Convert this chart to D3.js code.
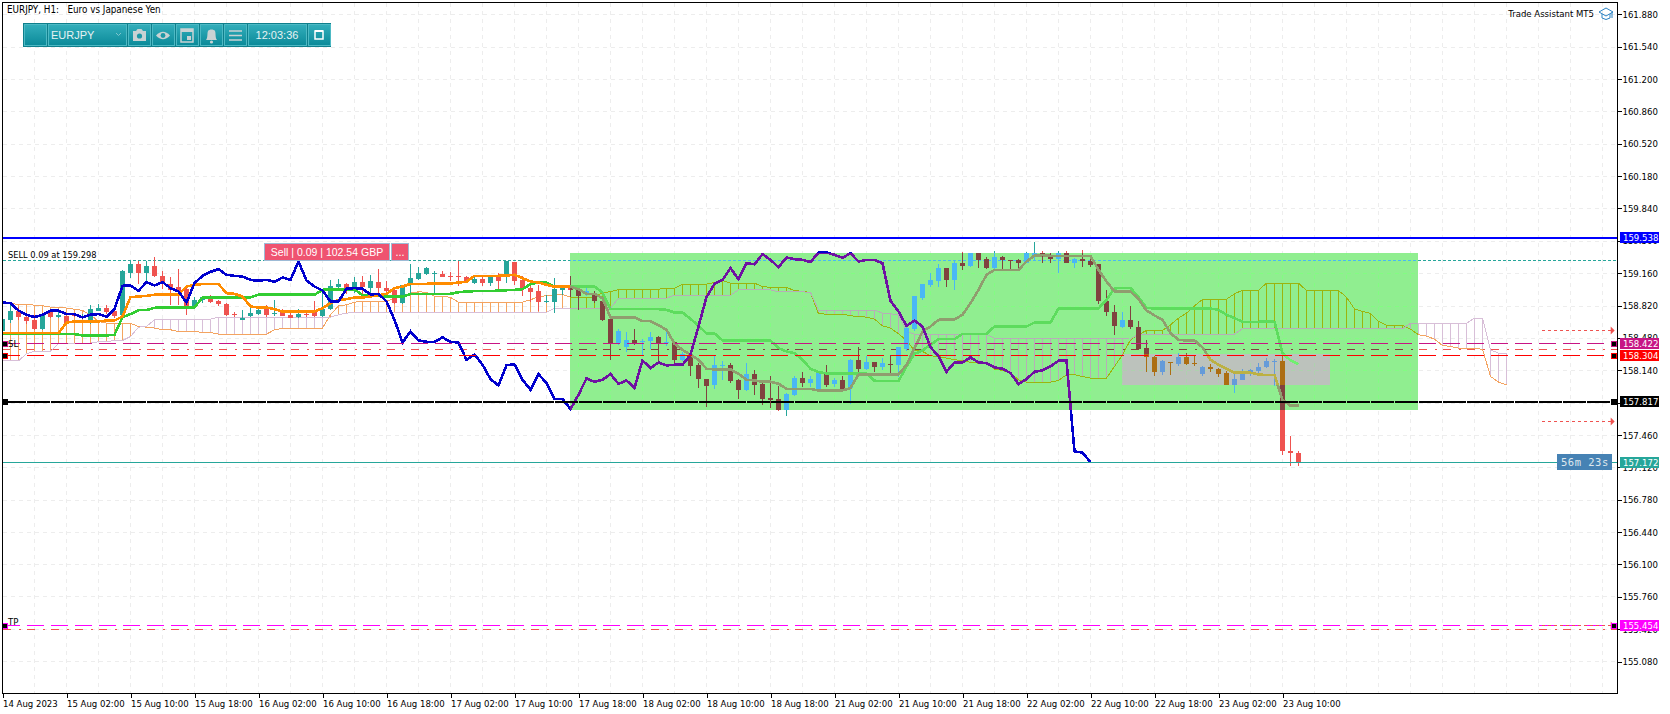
<!DOCTYPE html>
<html><head><meta charset="utf-8">
<style>
html,body{margin:0;padding:0;background:#fff;overflow:hidden}
text{font-family:"DejaVu Sans Condensed","DejaVu Sans","Liberation Sans",sans-serif;font-size:9.5px;fill:#000;white-space:pre}
.mono{font-family:"DejaVu Sans Mono","Liberation Mono",monospace;font-size:10.5px;letter-spacing:.5px}
</style>
<script src="https://cdn.jsdelivr.net/npm/d3@7"></script>
</head><body><svg id="c" width="1670" height="714"></svg>
<script>
const title="EURJPY, H1:   Euro vs Japanese Yen";
const xLabels=["14 Aug 2023","15 Aug 02:00","15 Aug 10:00","15 Aug 18:00","16 Aug 02:00","16 Aug 10:00","16 Aug 18:00","17 Aug 02:00","17 Aug 10:00","17 Aug 18:00","18 Aug 02:00","18 Aug 10:00","18 Aug 18:00","21 Aug 02:00","21 Aug 10:00","21 Aug 18:00","22 Aug 02:00","22 Aug 10:00","22 Aug 18:00","23 Aug 02:00","23 Aug 10:00"];
const yTicks=[161.88,161.54,161.2,160.86,160.52,160.18,159.84,159.5,159.16,158.82,158.48,158.14,157.8,157.46,157.12,156.78,156.44,156.1,155.76,155.42,155.08];
const open=[158.548,158.67,158.765,158.698,158.67,158.576,158.747,158.702,158.712,158.726,158.698,158.635,158.765,158.796,158.758,158.723,159.167,159.258,159.16,159.237,159.135,159.048,159.013,158.992,158.803,158.873,158.89,158.863,158.838,158.73,158.666,158.705,158.733,158.782,158.726,158.747,158.723,158.702,158.73,158.747,158.705,158.782,159.02,159.048,159.003,159.069,159.003,159.069,159.006,158.985,158.845,159.034,159.101,159.153,159.153,159.15,159.132,159.129,159.125,159.062,159.101,159.062,159.125,159.132,159.276,159.09,159.006,158.975,158.852,158.859,158.985,159.006,158.992,158.943,158.957,158.863,158.677,158.425,158.38,158.46,158.432,158.443,158.492,158.429,158.432,158.243,158.303,158.198,158.047,157.98,158.187,158.198,158.04,157.928,158.103,157.998,157.851,157.84,157.725,157.875,158.061,158.005,157.945,158.103,157.995,158.04,157.949,158.25,158.156,158.226,158.177,158.205,158.191,158.362,158.572,158.901,159.041,159.08,159.216,159.09,159.272,159.237,159.37,159.31,159.216,159.335,159.3,159.3,159.272,159.356,159.37,159.342,159.31,159.37,159.269,159.307,159.293,159.258,158.87,158.751,158.593,158.67,158.593,158.373,158.278,158.117,158.226,158.208,158.282,158.215,158.103,158.173,158.156,158.113,157.988,158.04,158.103,158.128,158.17,158.222,158.24,157.295,157.274];
const high=[158.677,158.828,158.803,158.723,158.723,158.74,158.768,158.775,158.723,158.74,158.726,158.828,158.838,158.828,158.793,159.195,159.293,159.283,159.293,159.328,159.185,159.125,159.202,159.003,158.908,158.922,158.929,158.88,158.845,158.754,158.768,158.793,158.817,158.824,158.88,158.782,158.775,158.782,158.775,158.87,158.957,159.09,159.097,159.062,159.125,159.132,159.143,159.202,159.083,159.02,159.038,159.254,159.22,159.223,159.178,159.178,159.171,159.293,159.132,159.132,159.118,159.132,159.16,159.293,159.276,159.132,159.038,159.038,158.933,159.108,159.041,159.132,159.02,159.006,158.968,158.88,158.688,158.576,158.54,158.576,158.467,158.54,158.502,158.548,158.443,158.334,158.32,158.215,158.047,158.285,158.236,158.215,158.047,158.215,158.145,158.005,158.075,157.977,157.9,158.075,158.124,158.075,158.128,158.198,158.061,158.075,158.257,158.383,158.292,158.226,158.268,158.303,158.38,158.593,158.922,159.048,159.167,159.258,159.216,159.283,159.384,159.37,159.37,159.328,159.391,159.342,159.3,159.31,159.387,159.489,159.394,159.37,159.398,159.394,159.318,159.405,159.353,159.258,158.985,158.828,158.751,158.817,158.66,158.453,158.285,158.25,158.226,158.32,158.32,158.303,158.187,158.205,158.163,158.128,158.103,158.152,158.156,158.215,158.268,158.257,158.303,157.452,157.295];
const low=[158.53,158.635,158.67,158.628,158.565,158.565,158.684,158.684,158.628,158.698,158.684,158.628,158.765,158.733,158.688,158.705,159.108,159.048,159.062,159.125,158.992,158.828,158.828,158.723,158.793,158.845,158.845,158.81,158.705,158.698,158.663,158.702,158.723,158.698,158.712,158.705,158.684,158.684,158.698,158.698,158.698,158.775,158.992,158.943,158.95,158.933,158.933,158.908,158.933,158.838,158.838,158.933,159.09,159.143,158.943,159.118,159.083,159.027,159.055,159.048,159.027,159.027,158.985,159.062,159.038,158.915,158.852,158.758,158.845,158.74,158.933,158.908,158.775,158.915,158.845,158.653,158.25,158.408,158.327,158.408,158.292,158.362,158.215,158.39,158.18,158.233,158.075,157.953,157.75,157.942,158.04,158.005,157.837,157.921,157.883,157.778,157.743,157.708,157.655,157.872,157.963,157.963,157.942,157.96,157.96,157.935,157.788,158.11,158.145,158.117,158.138,158.103,158.068,158.338,158.548,158.88,159.02,159.02,159.02,158.985,159.195,159.223,159.213,159.206,159.202,159.202,159.202,159.213,159.265,159.283,159.265,159.265,159.167,159.265,159.216,159.22,159.22,158.838,158.705,158.513,158.583,158.576,158.355,158.117,158.075,158.093,158.086,158.18,158.191,158.187,158.082,158.117,158.065,157.98,157.9,158.04,158.075,158.11,158.163,157.97,157.253,157.137,157.137];
const close=[158.677,158.765,158.698,158.653,158.576,158.723,158.695,158.719,158.635,158.712,158.712,158.785,158.796,158.754,158.712,159.178,159.258,159.16,159.237,159.135,159.055,158.985,158.968,158.803,158.88,158.908,158.852,158.831,158.716,158.723,158.691,158.74,158.775,158.716,158.74,158.712,158.691,158.733,158.723,158.705,158.782,159.027,159.048,158.992,159.069,159.02,159.073,159.003,158.968,158.845,159.038,159.108,159.16,159.213,159.16,159.125,159.122,159.115,159.069,159.097,159.062,159.118,159.083,159.293,159.083,158.992,158.964,158.852,158.869,158.992,159.013,158.985,158.922,158.968,158.863,158.67,158.425,158.555,158.46,158.418,158.446,158.492,158.425,158.439,158.243,158.31,158.187,158.047,157.97,158.194,158.198,158.03,157.928,158.103,157.988,157.84,157.83,157.725,157.886,158.058,158.005,158.051,158.11,157.988,158.04,157.945,158.25,158.156,158.226,158.177,158.215,158.191,158.38,158.586,158.915,159.048,159.09,159.216,159.09,159.272,159.237,159.37,159.3,159.216,159.335,159.3,159.293,159.272,159.377,159.37,159.353,159.31,159.37,159.272,159.307,159.293,159.248,158.863,158.747,158.6,158.67,158.593,158.362,158.275,158.117,158.233,158.212,158.282,158.208,158.208,158.177,158.149,158.103,157.988,158.05,158.107,158.138,158.17,158.24,158.24,157.288,157.267,157.172];
const chikou=[158.852,158.845,158.768,158.723,158.698,158.723,158.765,158.765,158.73,158.73,158.695,158.723,158.73,158.702,158.782,159.027,159.031,158.975,159.066,159.031,159.066,159.003,158.968,158.852,159.055,159.132,159.174,159.202,159.143,159.132,159.125,159.09,159.08,159.09,159.069,159.115,159.09,159.283,159.083,159.02,158.978,158.863,158.863,158.996,159.003,158.996,158.936,158.943,158.863,158.67,158.432,158.548,158.453,158.439,158.439,158.485,158.439,158.432,158.25,158.306,158.198,158.047,157.98,158.194,158.201,158.04,157.935,158.1,158.005,157.84,157.84,157.732,157.883,158.054,158.019,158.04,158.1,157.998,158.033,157.956,158.243,158.163,158.222,158.191,158.198,158.198,158.303,158.6,158.908,159.048,159.09,159.213,159.097,159.265,159.254,159.36,159.3,159.223,159.325,159.307,159.3,159.276,159.377,159.377,159.353,159.321,159.37,159.283,159.3,159.3,159.265,158.87,158.758,158.607,158.663,158.6,158.383,158.285,158.124,158.222,158.222,158.275,158.222,158.215,158.17,158.156,158.11,157.995,158.047,158.124,158.138,158.18,158.24,158.24,157.288,157.274,157.175];
const kijun=[158.523,158.523,158.523,158.523,158.523,158.523,158.523,158.52,158.52,158.52,158.506,158.506,158.506,158.506,158.513,158.698,158.73,158.772,158.772,158.796,158.8,158.8,158.8,158.8,158.8,158.905,158.905,158.905,158.905,158.905,158.905,158.905,158.933,158.933,158.933,158.933,158.933,158.933,158.933,158.933,158.985,158.989,158.989,158.989,158.989,158.929,158.922,158.922,158.915,158.915,158.915,158.94,158.943,158.943,158.943,158.943,158.943,158.96,158.968,158.971,158.971,158.971,158.978,158.981,158.985,158.992,159.045,159.062,159.062,159.017,159.017,159.017,159.02,159.02,159.02,158.957,158.782,158.782,158.782,158.782,158.782,158.782,158.782,158.775,158.747,158.747,158.68,158.607,158.527,158.527,158.453,158.453,158.453,158.453,158.453,158.453,158.453,158.373,158.338,158.32,158.25,158.156,158.12,158.107,158.107,158.107,158.107,158.103,158.103,158.03,158.026,158.026,158.026,158.18,158.313,158.348,158.408,158.467,158.467,158.467,158.523,158.523,158.523,158.523,158.6,158.6,158.6,158.6,158.6,158.642,158.642,158.642,158.789,158.789,158.789,158.789,158.789,158.789,158.88,159.0,159.006,159.006,158.908,158.796,158.789,158.789,158.789,158.789,158.789,158.789,158.789,158.789,158.775,158.723,158.688,158.649,158.649,158.649,158.652,158.649,158.32,158.243,158.205];
const tenkan=[158.53,158.53,158.53,158.53,158.53,158.53,158.53,158.53,158.642,158.653,158.653,158.653,158.653,158.663,158.663,158.705,158.908,158.915,158.922,158.933,158.933,158.933,158.933,159.02,159.038,159.045,159.045,159.045,158.95,158.943,158.915,158.81,158.8,158.8,158.782,158.758,158.758,158.758,158.758,158.758,158.793,158.845,158.88,158.887,158.905,158.905,158.915,158.929,158.943,159.003,159.02,159.048,159.048,159.048,159.052,159.052,159.052,159.062,159.069,159.132,159.132,159.132,159.132,159.135,159.143,159.108,159.073,159.062,159.038,159.017,159.017,159.017,158.992,158.943,158.943,158.898,158.695,158.695,158.695,158.695,158.656,158.656,158.614,158.565,158.418,158.355,158.303,158.25,158.156,158.149,158.149,158.149,158.103,158.04,158.033,158.019,158.019,157.998,157.945,157.945,157.945,157.945,157.928,157.928,157.928,157.928,157.953,158.096,158.096,158.096,158.096,158.096,158.096,158.198,158.373,158.548,158.6,158.67,158.674,158.674,158.723,158.845,158.985,159.143,159.195,159.195,159.195,159.195,159.283,159.346,159.349,159.342,159.342,159.342,159.342,159.342,159.342,159.195,159.073,158.968,158.968,158.968,158.887,158.768,158.716,158.67,158.53,158.46,158.453,158.453,158.38,158.25,158.198,158.156,158.114,158.114,158.114,158.096,158.089,158.089,157.83,157.767,157.767];
const spanA=[158.838,158.845,158.828,158.831,158.824,158.817,158.803,158.803,158.793,158.782,158.768,158.723,158.653,158.635,158.635,158.635,158.632,158.6,158.593,158.583,158.565,158.565,158.548,158.548,158.548,158.537,158.537,158.52,158.52,158.52,158.52,158.52,158.52,158.52,158.565,158.579,158.583,158.583,158.583,158.583,158.583,158.723,158.817,158.828,158.856,158.863,158.863,158.863,158.863,158.898,158.915,158.95,158.964,158.96,158.919,158.919,158.905,158.856,158.856,158.856,158.856,158.856,158.856,158.856,158.856,158.856,158.88,158.915,158.922,158.929,158.936,158.908,158.908,158.908,158.908,158.957,158.964,158.989,158.989,158.989,158.989,158.989,158.992,159.003,159.003,159.045,159.045,159.045,159.045,159.062,159.083,159.055,159.055,159.055,159.055,159.02,159.01,159.01,159.01,158.978,158.968,158.957,158.733,158.73,158.73,158.73,158.712,158.705,158.698,158.677,158.607,158.583,158.523,158.453,158.348,158.338,158.292,158.285,158.268,158.25,158.243,158.222,158.215,158.215,158.152,158.138,158.11,158.04,158.016,158.016,158.016,158.016,158.033,158.093,158.093,158.075,158.058,158.058,158.058,158.18,158.303,158.46,158.513,158.558,158.558,158.558,158.618,158.688,158.74,158.817,158.884,158.884,158.884,158.887,158.943,158.981,158.981,158.981,159.055,159.055,159.055,159.055,159.055,158.978,158.978,158.978,158.978,158.978,158.908,158.785,158.758,158.737,158.653,158.614,158.614,158.614,158.572,158.513,158.499,158.467,158.4,158.39,158.373,158.369,158.366,158.362,158.075,158.016,157.988];
const spanB=[158.24,158.24,158.24,158.313,158.341,158.341,158.341,158.418,158.425,158.425,158.425,158.425,158.439,158.439,158.453,158.453,158.495,158.593,158.6,158.67,158.677,158.677,158.677,158.677,158.677,158.677,158.677,158.698,158.698,158.698,158.698,158.698,158.698,158.698,158.698,158.698,158.698,158.698,158.698,158.698,158.698,158.698,158.723,158.74,158.75,158.75,158.75,158.75,158.75,158.75,158.75,158.75,158.75,158.75,158.75,158.75,158.75,158.75,158.75,158.75,158.75,158.75,158.75,158.75,158.75,158.75,158.75,158.75,158.75,158.793,158.793,158.793,158.793,158.793,158.793,158.793,158.793,158.898,158.898,158.898,158.898,158.898,158.898,158.898,158.929,158.929,158.929,158.929,158.929,158.929,158.929,158.929,158.985,158.985,158.985,158.985,158.985,158.964,158.964,158.964,158.964,158.957,158.772,158.772,158.772,158.772,158.772,158.772,158.772,158.772,158.74,158.733,158.723,158.548,158.52,158.52,158.52,158.52,158.52,158.52,158.52,158.52,158.52,158.52,158.478,158.478,158.478,158.478,158.478,158.478,158.478,158.478,158.478,158.478,158.478,158.478,158.478,158.478,158.478,158.478,158.478,158.467,158.52,158.52,158.52,158.52,158.52,158.52,158.52,158.52,158.52,158.52,158.52,158.52,158.52,158.576,158.576,158.576,158.576,158.576,158.576,158.576,158.576,158.576,158.576,158.576,158.576,158.576,158.576,158.576,158.576,158.576,158.576,158.576,158.576,158.576,158.632,158.632,158.632,158.632,158.632,158.632,158.632,158.632,158.688,158.688,158.355,158.32,158.32];
const greenBox=[71,177,159.374,157.725];
const grayBox=[140,166,158.313,157.988];
const stopLevels=[158.422,158.304];
const entryPrice=159.296, midLevel=158.362, midLevel2=155.42;
const blueLevel=159.538, blackLevel=157.817, bidLevel=157.172, tpLevel=155.454;
const arrowLevels=[158.565,157.606,155.46];

const svg=d3.select("#c");
const x=d3.scaleLinear().domain([0,1]).range([2.5,10.5]);
const y=d3.scaleLinear().domain([161.88,155.08]).range([14.3,661.5]);
const L=2.5,R=1617.5,T=2.5,B=693.5;
const row=p=>Math.round(y(p)-(p<156?.5:0));

// XOR compositing of the chart's box objects against what lies beneath them
const xorM=(c,m)=>{const n=parseInt(c.slice(1),16)^m;return "#"+n.toString(16).padStart(6,"0")};
const modes=[c=>c,c=>xorM(c,0x6F116F),c=>xorM(c,0x433D43)];
const defs=svg.append("defs");
const rp=(a,b,c,d)=>`M${a},${c}H${b}V${d}H${a}Z`;
const gb=rp(x(greenBox[0])-.5,x(greenBox[1])-.5,Math.round(y(greenBox[2])),Math.round(y(greenBox[3])));
const gy=rp(x(grayBox[0])-.5,x(grayBox[1])-.5,Math.round(y(grayBox[2])),Math.round(y(grayBox[3])));
const plot=rp(L,R,T,B);
defs.append("clipPath").attr("id","r0").append("path").attr("d",plot+gb).attr("clip-rule","evenodd");
defs.append("clipPath").attr("id","r1").append("path").attr("d",gb+gy).attr("clip-rule","evenodd");
defs.append("clipPath").attr("id","r2").append("path").attr("d",gy);

svg.append("path").attr("d",gb).attr("fill","#90EE90");
svg.append("path").attr("d",gy).attr("fill","#BCC2BC");

const CL={grid:"#ededed",bull:"#26A69A",bear:"#EF5350",tenkan:"#FF8C00",kijun:"#32CD32",chikou:"#0000CD",a:"#F4A460",b:"#D8BFD8"};
const idx=a=>a.map((v,i)=>[i,v]);
const ln=d3.line().x(d=>x(d[0])).y(d=>y(d[1]));
const gridX=d3.range(0,201,4);
function layer(mode){
  const c=modes[mode];
  const g=svg.append("g").attr("clip-path",`url(#r${mode})`).attr("shape-rendering","crispEdges");
  g.selectAll(".gh").data(yTicks).join("line").attr("x1",L).attr("x2",R).attr("y1",d=>row(d)+.5).attr("y2",d=>row(d)+.5).attr("stroke",c(CL.grid)).attr("stroke-dasharray","4 4");
  g.selectAll(".gv").data(gridX).join("line").attr("x1",d=>x(d)).attr("x2",d=>x(d)).attr("y1",T).attr("y2",B).attr("stroke",c(CL.grid)).attr("stroke-dasharray","4 4");
  g.selectAll(".e").data([entryPrice]).join("line").attr("x1",L).attr("x2",R).attr("y1",d=>row(d)+.5).attr("y2",d=>row(d)+.5).attr("stroke",c(CL.bull)).attr("stroke-dasharray","3 2");
  g.selectAll(".m").data([midLevel,midLevel2]).join("line").attr("x1",L).attr("x2",R).attr("y1",d=>row(d)+.5).attr("y2",d=>row(d)+.5).attr("stroke",c(CL.bear)).attr("stroke-dasharray","8 8 2 6");
  g.selectAll(".h").data(idx(spanA)).join("line").attr("x1",d=>x(d[0])).attr("x2",d=>x(d[0])).attr("y1",d=>y(d[1])).attr("y2",d=>y(spanB[d[0]])).attr("stroke",d=>c(d[1]>spanB[d[0]]?CL.a:CL.b));
  g.append("path").attr("d",ln(idx(spanA))).attr("fill","none").attr("stroke",c(CL.a));
  g.append("path").attr("d",ln(idx(spanB))).attr("fill","none").attr("stroke",c(CL.b));
  g.selectAll(".w").data(open).join("rect").attr("x",(d,i)=>x(i)-.5).attr("width",1).attr("y",(d,i)=>y(high[i])).attr("height",(d,i)=>Math.max(1,y(low[i])-y(high[i]))).attr("fill",(d,i)=>c(close[i]>=open[i]?CL.bull:CL.bear));
  g.selectAll(".k").data(open).join("rect").attr("x",(d,i)=>x(i)-2.5).attr("width",5).attr("y",(d,i)=>y(Math.max(open[i],close[i]))).attr("height",(d,i)=>Math.max(1,Math.abs(y(open[i])-y(close[i])))).attr("fill",(d,i)=>c(close[i]>=open[i]?CL.bull:CL.bear));
  [[kijun,CL.kijun],[tenkan,CL.tenkan],[chikou,CL.chikou]].forEach(([a,k])=>{
    g.append("path").attr("d",ln(idx(a))).attr("fill","none").attr("stroke",c(k)).attr("stroke-width",2.6);
  });
}
layer(0);layer(1);layer(2);

// price levels on top
const lv=svg.append("g").attr("shape-rendering","crispEdges");
const hl=(p,col,w,dash)=>{const Y=w%2?row(p)+.5:Math.ceil(y(p));lv.append("line").attr("x1",L).attr("x2",R).attr("y1",Y).attr("y2",Y).attr("stroke",col).attr("stroke-width",w).attr("stroke-dasharray",dash);};
hl(blueLevel,"#0000FF",2,null);
hl(bidLevel,"#26A69A",1,null);
hl(stopLevels[0],"#C71585",1,"17.5 6.5");
hl(stopLevels[1],"#FF0000",1,"17.5 6.5");
hl(blackLevel,"#000000",2,"23 1");
hl(tpLevel,"#FF00FF",1,"17.5 6.5");

// arrows
const ar=svg.append("g");
arrowLevels.forEach(p=>{
  const X1=x(192.4),X2=x(201.4),Y=row(p)+.5;
  ar.append("line").attr("x1",X1).attr("x2",X2).attr("y1",Y).attr("y2",Y).attr("stroke","#EF5350").attr("stroke-dasharray","3 3").attr("shape-rendering","crispEdges");
  ar.append("path").attr("d",`M${X2-3},${Y-4}L${X2+1},${Y}L${X2-3},${Y+4}Z`).attr("fill","#EF5350");
});

// level end squares
const sq=(sx,p,col)=>svg.append("rect").attr("x",sx-2.5).attr("y",row(p)-2).attr("width",5).attr("height",5).attr("fill","#000").attr("stroke",col).attr("stroke-width",1).attr("shape-rendering","crispEdges");
[[stopLevels[0],"#C71585"],[stopLevels[1],"#FF0000"],[blackLevel,"#000"],[tpLevel,"#FF00FF"]].forEach(([p,c])=>{sq(5,p,c);sq(1614,p,c)});

// axes
const xAxis=d3.axisBottom(x).tickValues(xLabels.map((d,i)=>i*8)).tickSize(4).tickFormat((d,i)=>xLabels[i]);
const ga=svg.append("g").attr("transform",`translate(0,${B})`).call(xAxis);
ga.select(".domain").remove();
ga.selectAll("text").attr("text-anchor","start").attr("x",0).attr("y",7).attr("dy","0.71em").style("font-size","9.5px").style("font-family",null);
const yAxis=d3.axisRight(y).tickValues(yTicks).tickSize(4).tickFormat(d3.format(".3f"));
const gy2=svg.append("g").attr("transform",`translate(${R},0)`).call(yAxis);
gy2.select(".domain").remove();
gy2.selectAll("text").attr("x",5).style("font-size","9.5px");
svg.selectAll(".tick line").attr("stroke","#000").attr("shape-rendering","crispEdges");
svg.append("path").attr("d",`M${L},${T}H${R}V${B}H${L}Z`).attr("fill","none").attr("stroke","#000").attr("shape-rendering","crispEdges");

// price tags
const tag=(p,bg,fg)=>{const Y=row(p);
  svg.append("rect").attr("x",1620).attr("y",Y-5).attr("width",39).attr("height",11).attr("fill",bg).attr("shape-rendering","crispEdges");
  svg.append("text").attr("x",1623).attr("y",Y+4).text(p.toFixed(3)).style("fill",fg);};
tag(blueLevel,"#0000FF","#fff");tag(stopLevels[0],"#C71585","#fff");tag(stopLevels[1],"#FF0000","#fff");
tag(blackLevel,"#000","#fff");tag(bidLevel,"#26A69A","#fff");tag(tpLevel,"#FF00FF","#fff");

// countdown
const cy=row(bidLevel);
svg.append("rect").attr("x",1557).attr("y",cy-8).attr("width",55).attr("height",16).attr("fill","#4682B4");
svg.append("text").attr("class","mono").attr("x",1561).attr("y",cy+4).text("56m 23s").style("fill","#dfe8ee");

// text notes
const note=(tx,ty,s,anc)=>svg.append("text").attr("x",tx).attr("y",ty).attr("text-anchor",anc||"start").text(s);
note(7,13,title).style("font-size","9.8px");
note(8,258,"SELL 0.09 at 159.298").style("font-size","9.2px");
note(8,347,"SL");
note(8,625,"TP");
note(1594,17,"Trade Assistant MT5","end");
const hat=svg.append("g").attr("transform","translate(1599,8)").attr("fill","none").attr("stroke","#2a82c4");
hat.append("path").attr("d","M0,4L7,0L14,4L7,8Z");
hat.append("path").attr("d","M3,6V10Q7,13 11,10V6M13,4V10");

// sell badge
const sb=svg.append("g");
sb.append("rect").attr("x",264.5).attr("y",243.5).attr("width",125).attr("height",17).attr("fill","#EF5370").attr("stroke","#9DBBD6").attr("shape-rendering","crispEdges");
sb.append("rect").attr("x",391.5).attr("y",243.5).attr("width",17).attr("height",17).attr("fill","#EF5370").attr("stroke","#9DBBD6").attr("shape-rendering","crispEdges");
sb.append("text").attr("x",327).attr("y",256).attr("text-anchor","middle").text("Sell | 0.09 | 102.54 GBP").style("fill","#fff").style("font-size","10.5px").style("font-family","Liberation Sans");
sb.append("text").attr("x",400).attr("y",256).attr("text-anchor","middle").text("...").style("fill","#fff").style("font-size","10.5px");

// toolbar
const grad=defs.append("linearGradient").attr("id","tb").attr("x1",0).attr("x2",0).attr("y1",0).attr("y2",1);
grad.append("stop").attr("offset","0").attr("stop-color","#33AEBB");
grad.append("stop").attr("offset","1").attr("stop-color","#0B8A99");
const tb=svg.append("g");
tb.append("rect").attr("x",23).attr("y",23).attr("width",308).attr("height",24).attr("fill","#0F7F8C");
const cells=[[24,22],[48,78],[128,22],[152,22],[176,22],[200,22],[224,22],[248,58],[308,22]];
tb.selectAll(".cell").data(cells).join("rect").attr("x",d=>d[0]+.5).attr("y",24.5).attr("width",d=>d[1]).attr("height",21).attr("fill","url(#tb)").attr("stroke","#4DB9C4").attr("shape-rendering","crispEdges");
const w=s=>tb.append("text").attr("y",38.5).text(s).style("fill","#E6F2F3").style("font-size","11px").style("font-family","Liberation Sans");
w("EURJPY").attr("x",51);
w("12:03:36").attr("x",277).attr("text-anchor","middle");
tb.append("path").attr("d","M116,33l2.5,2.5l2.5,-2.5").attr("fill","none").attr("stroke","#7fc6ce");
const ic="#C9D2D3";
tb.append("path").attr("d","M133,31h3l1.5,-2h4l1.5,2h3v10h-13Z").attr("fill",ic);
tb.append("circle").attr("cx",139.5).attr("cy",36).attr("r",2.6).attr("fill","#1E98A6");
tb.append("path").attr("d","M156,35.5Q163,28 170,35.5Q163,43 156,35.5Z").attr("fill",ic);
tb.append("circle").attr("cx",163).attr("cy",35.5).attr("r",2.4).attr("fill","#1E98A6");
tb.append("rect").attr("x",181).attr("y",29).attr("width",12).attr("height",13).attr("fill","none").attr("stroke",ic).attr("stroke-width",1.5);
tb.append("rect").attr("x",181).attr("y",29).attr("width",12).attr("height",3).attr("fill",ic);
tb.append("rect").attr("x",187).attr("y",36).attr("width",4).attr("height",4).attr("fill",ic);
tb.append("path").attr("d","M206,40c2,-2 1,-7 2,-9c1,-2 6,-2 7,0c1,2 0,7 2,9Z").attr("fill",ic);
tb.append("circle").attr("cx",211.5).attr("cy",42).attr("r",1.6).attr("fill",ic);
tb.append("path").attr("d","M229,31h13M229,35.5h13M229,40h13").attr("stroke",ic).attr("stroke-width",1.5);
tb.append("rect").attr("x",315).attr("y",31).attr("width",8).attr("height",8).attr("fill","none").attr("stroke","#fff").attr("stroke-width",1.5);
tb.append("path").attr("d","M315,31h8").attr("stroke","#fff").attr("stroke-width",2);
</script></body></html>
